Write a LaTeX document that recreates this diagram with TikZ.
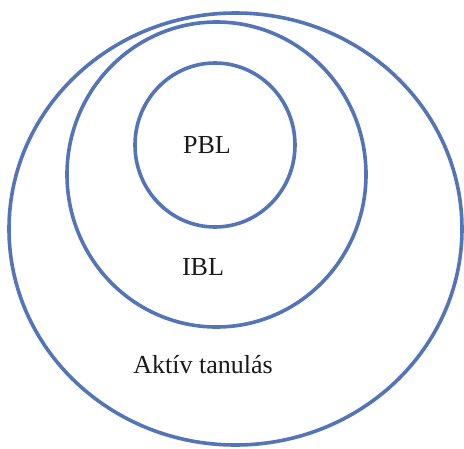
\documentclass[tikz,border=0pt]{standalone}
\usepackage{fontspec}
\setmainfont{Liberation Serif}
\usepackage{tikz}
\usetikzlibrary{shapes.geometric}
\definecolor{ringblue}{RGB}{84,116,184}
\tikzset{
  myring/.style = {ellipse, draw=ringblue, line width=3.6pt, inner sep=0pt},
  mylabel/.style = {font=\fontsize{26}{30}\selectfont, text=black!90, inner sep=0pt},
}

\begin{document}
\begin{tikzpicture}[x=1pt, y=-1pt]
\useasboundingbox (0,0) rectangle (464,448);
\node[myring, minimum width=453pt, minimum height=432pt] (aktiv) at (235.5,229) {};
\node[myring, minimum width=299pt, minimum height=305pt] (ibl) at (216.5,174.5) {};
\node[myring, minimum width=160pt, minimum height=164pt] (pbl) at (215,145) {};
\node[mylabel] (pbltext) at (207,145) {PBL};
\node[mylabel] (ibltext) at (203,267) {IBL};
\node[mylabel] (aktivtext) at (203,365) {Aktív tanulás};
\end{tikzpicture}
\end{document}
